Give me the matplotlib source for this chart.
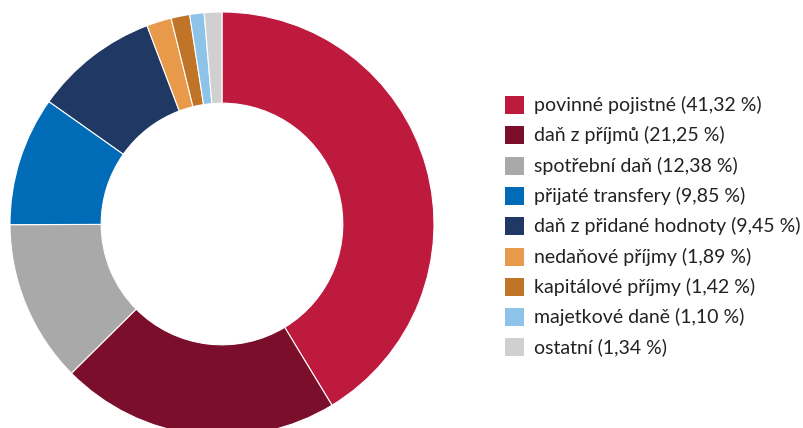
import matplotlib.pyplot as plt
from matplotlib.patches import Rectangle

labels = ["povinné pojistné", "daň z příjmů", "spotřební daň", "přijaté transfery",
          "daň z přidané hodnoty", "nedaňové příjmy", "kapitálové příjmy",
          "majetkové daně", "ostatní"]
shares = [41.32, 21.25, 12.38, 9.85, 9.45, 1.89, 1.42, 1.10, 1.34]
colors = ["#BE1A3E", "#7A0E2B", "#A9A9A9", "#006BB6", "#1F3864",
          "#E8994A", "#BF7428", "#8DC3E8", "#D0D0D0"]

plt.rcParams['font.family'] = ['Lato', 'DejaVu Sans']

W, H = 804, 428
fig = plt.figure(figsize=(W / 100, H / 100), dpi=100)

# donut: centre (222, 224) px, radius 212 px
R = 212
cx, cy = 222, 224
ax = fig.add_axes([(cx - R) / W, (H - cy - R) / H, 2 * R / W, 2 * R / H])
ax.pie(shares, colors=colors, startangle=90, counterclock=False, radius=1,
       wedgeprops=dict(width=0.43, edgecolor='white', linewidth=0.8))
ax.set_xlim(-1, 1)
ax.set_ylim(-1, 1)
ax.set_aspect('equal')
ax.axis('off')

# legend drawn in pixel coordinates
y0, dy = 105, 30.3
for i, (lab, val, col) in enumerate(zip(labels, shares, colors)):
    y = y0 + i * dy
    fig.patches.append(Rectangle((505 / W, (H - y - 9) / H), 19 / W, 18 / H,
                                 transform=fig.transFigure, facecolor=col,
                                 edgecolor='none'))
    txt = f"{lab} ({val:.2f} %)".replace('.', ',')
    fig.text(534 / W, (H - y) / H, txt, fontsize=14, color='#222222',
             ha='left', va='center')

fig.savefig("out.png", dpi=100)
